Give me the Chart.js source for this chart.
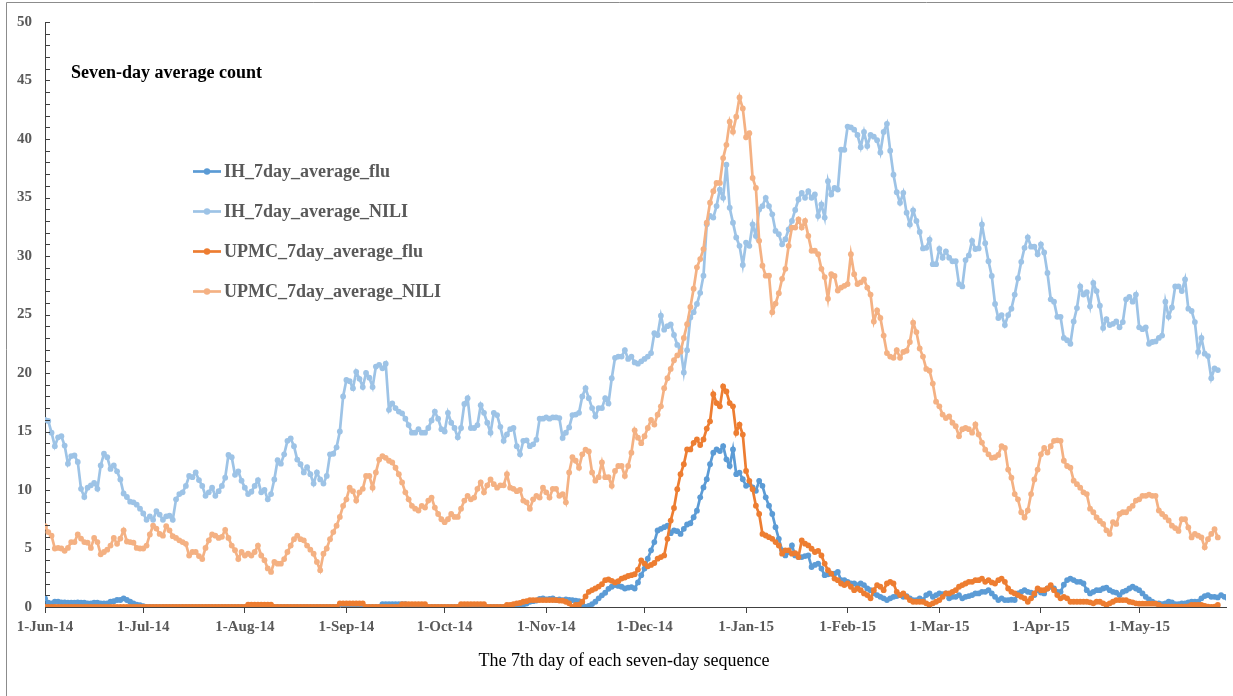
<!DOCTYPE html>
<html><head><meta charset="utf-8">
<script src="https://cdn.jsdelivr.net/npm/chart.js@4.4.1/dist/chart.umd.min.js"></script>
<style>html,body{margin:0;padding:0;background:#fff;overflow:hidden}#wrap{position:relative;width:1233px;height:696px}</style>
</head><body><div id="wrap"><canvas id="c" width="1233" height="696"></canvas></div>
<script>
// Day 0 = 1-Jun-2014, one value per day (7th day of each seven-day window)
const seriesNames = ['IH_7day_average_flu','IH_7day_average_NILI','UPMC_7day_average_flu','UPMC_7day_average_NILI'];

const ihFlu = [
0.74,0.37,0.3,0.45,0.45,0.4,0.4,0.37,0.37,0.37,0.4,0.37,0.37,0.3,0.3,0.37,0.37,0.3,0.3,0.3,
0.45,0.5,0.6,0.6,0.74,0.6,0.45,0.3,0.2,0.15,0.08,
0,0,0,0,0,0,0,0,0,0,0,0,0,0,0,0,0,0,0,0,0,0,0,0,0,0,0,0,0,0,0,0,0,0,0,0,0,0,
0,0,0,0,0,0,0,0,0,0,0,0,0,0,0,0,0,0,0,0,0,0,0,0,0,0,0,0,0,0,0,0,0,0,
0.25,0.25,0.25,0.25,0.25,0.25,0.25,0.25,
0,0,0,0,0,0,0,0,0,0,0,0,0,0,0,0,0,0,0,0,0,0,0,0,0,0,0,0,0,0,0,0,0,0,
0.1,0.2,0.3,0.45,0.5,0.55,0.7,0.74,0.65,0.7,0.74,0.6,0.65,0.59,0.65,0.6,0.59,0.55,0.5,0.2,
0.0,0.1,0.25,
0.45,0.74,1.0,1.22,1.55,1.73,1.87,1.8,1.73,1.58,1.65,1.7,1.58,2.1,2.72,3.28,4.13,4.84,5.55,6.54,
6.68,6.82,6.96,6.31,6.54,6.48,6.25,6.68,7.05,7.16,7.67,8.23,9.37,10.22,10.92,12.2,13.19,13.47,13.33,13.75,
12.62,12.05,13.47,11.35,11.49,10.92,10.36,10.5,10.22,9.93,10.78,10.36,9.37,8.66,7.95,6.82,5.83,4.84,4.41,4.7,
5.26,4.41,4.27,4.27,4.35,4.41,3.42,3.6,3.71,3.28,2.72,2.8,
2.86,2.86,3.0,2.29,2.29,2.15,2.01,2.01,1.87,2.01,1.87,1.58,1.44,1.16,1.02,0.87,0.74,0.59,0.74,0.87,
0.93,1.02,0.87,0.93,0.74,0.59,0.59,0.74,0.59,1.02,1.16,0.87,1.02,1.16,1.1,1.16,0.74,0.87,0.87,1.02,
0.74,0.87,0.93,1.02,1.16,1.16,1.3,1.3,1.44,1.16,0.87,0.59,0.74,0.59,0.59,0.62,
0.6,1.16,1.3,1.44,1.3,1.23,1.02,1.44,1.23,1.16,1.58,1.73,1.58,1.3,1.3,1.9,2.3,2.43,2.3,2.15,
2.15,2.01,1.44,1.16,1.3,1.44,1.44,1.58,1.65,1.44,1.3,1.23,1.02,1.3,1.4,1.58,1.73,1.58,1.44,1.16,
0.87,0.65,0.45,0.31,0.31,0.25,0.31,0.45,0.4,0.25,0.25,0.31,0.31,0.4,0.45,0.45,0.45,0.74,0.93,1.02,
0.87,0.87,0.82,1.02,0.87,0.74,0.59
];

const ihNili = [
16.0,15.9,14.9,13.75,14.5,14.6,13.8,12.25,12.9,12.95,12.4,10.1,9.4,10.2,10.4,10.6,10.1,12.1,13.1,12.8,
11.8,12.1,11.6,10.9,9.7,9.4,9.0,8.95,8.75,8.4,8.0,7.45,7.75,7.45,8.2,7.9,7.45,7.75,7.8,7.45,
9.2,9.65,9.8,10.35,11.2,11.1,11.5,10.85,10.35,9.5,9.8,10.2,9.5,9.9,10.35,11.05,13.0,12.8,11.3,11.6,
10.8,10.2,9.65,9.85,10.35,10.85,9.8,10.0,9.2,9.65,10.9,12.55,12.25,13.05,14.2,14.4,13.75,12.6,12.2,11.5,
11.95,11.35,10.55,11.5,10.9,10.55,11.2,13.05,13.1,13.65,15.0,18.0,19.4,19.3,18.7,20.1,19.5,18.8,20.0,19.6,
18.8,20.55,20.7,20.4,20.8,16.85,17.4,17.0,16.7,16.55,16.1,15.55,14.9,14.9,15.2,
14.9,14.9,15.3,15.95,16.7,16.1,15.2,15.0,16.6,15.75,15.3,14.5,15.3,17.35,17.85,15.3,15.3,15.55,17.25,16.6,
15.75,14.9,16.6,16.4,15.4,14.2,14.75,15.2,15.3,13.75,13.05,14.2,14.25,13.75,13.9,14.3,16.1,16.1,16.2,16.1,
16.2,16.2,16.15,14.45,14.9,
15.35,16.4,16.45,16.6,18.0,18.7,17.85,17.0,16.3,17.0,17.0,17.85,17.4,19.55,21.3,21.4,21.4,21.95,21.2,21.4,
20.9,20.8,21.0,21.2,21.4,21.7,23.4,23.25,24.9,23.7,24.0,24.15,23.25,22.4,22.1,20.05,21.95,24.75,25.2,
25.9,26.85,28.32,32.71,33.42,33.28,34.27,35.68,34.97,37.8,34.13,32.85,31.58,30.87,29.23,31.15,30.87,32.71,31.72,33.98,
34.27,34.97,34.27,33.56,32.14,31.86,31.0,31.43,32.28,33.0,33.94,34.83,35.4,34.97,35.54,34.97,35.26,33.42,34.41,33.28,
36.39,35.26,35.82,35.68,39.08,39.08,41.06,
41.0,40.8,40.35,39.3,40.6,39.4,40.35,40.2,39.9,38.85,40.6,41.3,39.0,36.95,35.45,34.55,35.4,33.7,32.7,33.9,
33.0,32.05,30.65,30.7,31.4,29.3,29.3,30.6,29.85,30.4,29.85,29.55,29.55,27.6,27.4,29.65,30.05,31.3,30.6,30.65,
32.7,31.1,29.55,28.3,25.9,24.7,
24.95,24.1,24.95,25.5,26.7,28.1,29.5,30.7,31.6,30.8,30.8,30.15,31.0,30.3,28.55,26.3,26.1,24.8,24.8,23.0,
22.8,22.5,24.4,25.55,27.4,26.7,26.9,25.7,27.7,27.0,25.75,23.85,24.6,24.1,24.2,24.4,23.9,24.35,26.3,26.5,
26.1,26.7,23.9,23.75,23.9,22.5,22.65,22.7,23.0,23.2,26.1,24.8,25.6,27.4,27.4,27.0,28.0,25.5,25.3,24.35,
21.8,23.0,21.65,21.45,19.55,20.4,20.25
];

const upmcFlu = [
0,0,0,0,0,0,0,0,0,0,0,0,0,0,0,0,0,0,0,0,0,0,0,0,0,0,0,0,0,0,0,0,0,0,0,0,0,0,0,0,
0,0,0,0,0,0,0,0,0,0,0,0,0,0,0,0,0,0,0,0,0,0,
0.2,0.2,0.2,0.2,0.2,0.2,0.2,0.2,
0,0,0,0,0,0,0,0,0,0,0,0,0,0,0,0,0,0,0,0,
0.3,0.3,0.3,0.3,0.3,0.3,0.3,0.3,
0,0,0,0,0,0,0,0,0,0,0,
0.25,0.25,0.25,0.25,0.25,0.25,0.25,0.25,
0,0,0,0,0,0,0,0,0,0,
0.25,0.25,0.25,0.25,0.25,0.25,0.25,0.25,
0,0,0,0,0,0,
0.17,0.17,0.25,0.31,0.35,0.45,0.5,0.59,0.59,0.59,0.59,0.59,0.59,0.59,0.59,0.59,0.55,0.54,0.45,0.31,
0.0,0.17,0.2,
0.45,0.9,1.3,1.45,1.58,1.75,1.95,2.29,2.35,2.24,2.1,2.2,2.43,2.52,2.65,2.72,2.8,3.2,3.99,3.71,
3.48,3.6,3.76,4.13,4.27,4.41,5.83,7.39,8.46,10.07,11.35,12.2,13.47,13.47,14.03,14.32,13.84,14.32,15.25,15.87,
18.19,17.43,17.15,18.85,18.42,17.43,17.15,14.88,15.59,14.74,11.63,10.78,10.07,8.66,7.95,6.25,6.11,5.97,5.83,5.55,
5.26,4.56,4.84,4.84,4.56,4.61,4.27,5.69,5.41,5.26,4.98,4.7,
4.8,4.41,3.71,3.14,2.86,2.43,2.29,2.01,1.87,2.01,1.73,1.44,1.58,1.44,1.16,1.02,0.74,1.44,1.87,1.73,
1.44,2.01,2.15,2.01,1.3,1.02,1.16,0.87,0.59,0.45,0.45,0.45,0.45,0.31,0.17,0.31,0.45,0.59,0.87,1.16,
1.16,1.3,1.44,1.73,1.87,2.01,2.15,2.15,2.29,2.29,2.43,2.15,2.29,2.1,2.01,2.29,
2.43,2.15,1.58,1.3,1.16,1.02,0.87,0.74,0.45,0.74,1.16,1.58,1.44,1.44,1.58,1.87,1.44,1.02,0.74,0.87,
0.74,0.45,0.45,0.45,0.45,0.45,0.45,0.4,0.31,0.45,0.45,0.31,0.17,0.31,0.45,0.59,0.59,0.59,0.59,0.45,
0.4,0.31,0.28,0.28,0.28,0.28,0.28,0.28,0.17,0.03,0.03,0.03,0.03,0.03,0.03,0.03,0.03,0.05,0.17,0.17,
0.17,0.17,0.1,0.03,0.0,0.03,0.17
];

const upmcNili = [
6.9,6.4,6.1,5.0,5.05,5.0,4.8,5.05,5.55,5.55,6.2,5.85,5.55,5.5,5.05,5.9,5.55,4.5,4.7,4.9,
5.25,5.9,5.4,5.85,6.55,5.6,5.55,5.5,5.05,5.0,5.0,5.25,6.2,6.95,6.7,6.25,6.1,6.9,6.55,6.05,
5.9,5.7,5.55,5.4,4.4,4.7,4.7,4.35,4.1,5.05,5.7,6.2,6.1,5.9,6.0,6.6,5.9,5.25,4.85,4.1,
4.7,4.4,4.55,4.4,4.7,5.25,4.4,4.0,3.3,3.0,3.85,3.7,3.7,4.1,4.7,5.25,5.8,6.1,5.8,5.7,
5.25,4.9,4.55,3.85,3.15,4.55,5.0,5.8,6.4,6.95,7.7,8.65,9.2,10.2,9.9,9.1,9.8,10.1,11.2,11.2,
10.2,11.5,12.6,12.9,12.75,12.5,12.35,11.9,11.35,10.65,9.8,9.2,8.65,8.4,8.25,8.65,8.5,9.1,9.35,
8.5,7.95,7.5,7.25,7.5,7.95,7.7,7.7,8.4,9.1,9.5,9.2,9.35,10.1,10.65,9.8,10.4,10.9,10.5,10.2,
10.4,10.4,11.35,10.2,10.1,9.9,10.0,9.1,8.95,8.4,9.2,9.5,9.35,10.2,9.8,9.35,10.1,10.1,9.5,9.65,
8.95,11.5,12.8,12.5,11.9,13.05,13.45,13.3,11.5,10.8,11.1,12.35,11.1,11.1,
10.36,11.63,12.05,12.05,11.2,12.05,13.19,15.1,14.47,14.0,14.6,15.3,16.0,15.59,16.44,17.15,18.7,19.55,20.35,21.09,
21.5,21.82,23.0,24.17,25.64,27.2,29.03,29.74,30.59,32.85,34.55,35.54,36.25,36.25,38.37,39.5,41.48,40.63,41.9,43.55,
42.61,40.15,40.49,36.67,35.82,31.3,29.17,28.32,28.32,25.2,25.93,26.82,28.05,28.9,30.87,32.43,32.43,33.13,32.43,33.0,
31.72,30.45,30.45,
30.15,28.9,28.2,26.35,28.45,28.3,27.05,27.3,27.45,27.6,30.15,28.45,27.6,27.75,28.0,27.3,26.7,24.4,25.35,24.7,
23.2,21.7,21.4,21.3,21.95,21.3,21.8,21.9,22.65,24.3,23.5,22.1,21.4,20.35,20.2,19.1,17.55,17.15,16.45,16.15,
16.3,15.75,15.45,14.6,15.2,15.3,15.2,14.9,15.6,14.75,14.05,13.45,13.05,12.75,12.8,13.0,
13.75,13.6,11.75,11.05,9.65,9.2,8.1,7.65,8.25,9.65,10.9,11.75,13.05,13.6,13.2,13.75,14.2,14.25,14.2,12.5,
12.05,11.9,10.8,10.5,10.2,9.8,9.65,8.4,8.1,7.65,7.35,7.1,6.55,6.25,7.25,7.1,7.95,8.1,8.1,8.4,
8.65,9.1,9.2,9.5,9.5,9.6,9.5,9.5,8.25,7.95,7.7,7.4,6.95,6.75,6.5,7.5,7.5,6.8,5.95,6.25,
6.1,5.95,5.1,5.8,6.25,6.65,5.95
];

// Month tick positions (days since 1-Jun-2014) and their labels
const monthTickDays = [0,30,61,92,122,153,183,214,245,273,304,334];
const monthTickLabels = ['1-Jun-14','1-Jul-14','1-Aug-14','1-Sep-14','1-Oct-14','1-Nov-14','1-Dec-14','1-Jan-15','1-Feb-15','1-Mar-15','1-Apr-15','1-May-15'];

const chartTitle = 'Seven-day average count';
const xAxisTitle = 'The 7th day of each seven-day sequence';

const colors = ['#5B9BD5','#9DC3E6','#ED7D31','#F4B183'];
const allSeries = [ihFlu, ihNili, upmcFlu, upmcNili];

const SERIF = '"Liberation Serif","Times New Roman",serif';

const datasets = allSeries.map((vals, k) => ({
  label: seriesNames[k],
  data: vals.map((v, i) => ({x: i, y: v})),
  borderColor: colors[k],
  backgroundColor: colors[k],
  pointBackgroundColor: colors[k],
  pointBorderWidth: 0,
  pointRadius: 2.9,
  borderWidth: 2.7,
  tension: 0,
  order: 4 - k
}));

const decor = {
  id: 'decor',
  afterDraw(chart) {
    const ctx = chart.ctx;
    const y = chart.scales.y;
    const ca = chart.chartArea;
    ctx.save();
    // outer chart border
    ctx.strokeStyle = '#8c8c8c';
    ctx.lineWidth = 1;
    ctx.beginPath();
    ctx.moveTo(6.5, 696); ctx.lineTo(6.5, 2.5); ctx.lineTo(1233, 2.5);
    ctx.stroke();
    // y-axis tick marks (inside)
    ctx.strokeStyle = '#404040';
    ctx.beginPath();
    for (let v = 0; v <= 50; v++) {
      const py = Math.round(y.getPixelForValue(v)) + 0.5;
      ctx.moveTo(ca.left, py);
      ctx.lineTo(ca.left + 5, py);
    }
    ctx.stroke();
    // title inside plot
    ctx.fillStyle = '#000';
    ctx.font = 'bold 18px ' + SERIF;
    ctx.textAlign = 'left';
    ctx.textBaseline = 'middle';
    ctx.fillText(chartTitle, 71, 73);
    // legend
    chart.data.datasets.forEach((ds, i) => {
      const ly = 171.5 + i * 40;
      ctx.strokeStyle = ds.borderColor;
      ctx.lineWidth = 2.7;
      ctx.beginPath(); ctx.moveTo(193, ly); ctx.lineTo(221, ly); ctx.stroke();
      ctx.fillStyle = ds.borderColor;
      ctx.beginPath(); ctx.arc(207, ly, 3.2, 0, Math.PI * 2); ctx.fill();
      ctx.fillStyle = '#595959';
      ctx.font = 'bold 18px ' + SERIF;
      ctx.fillText(ds.label, 224, ly + 1);
    });
    // x-axis title
    ctx.fillStyle = '#000';
    ctx.font = '18px ' + SERIF;
    ctx.textAlign = 'center';
    ctx.fillText(xAxisTitle, 624, 661);
    ctx.restore();
  }
};

new Chart(document.getElementById('c'), {
  type: 'line',
  data: { datasets },
  options: {
    responsive: false,
    animation: false,
    devicePixelRatio: 1,
    layout: { padding: { left: 0, right: 7, top: 15, bottom: 0 } },
    plugins: { legend: { display: false }, tooltip: { enabled: false }, title: { display: false } },
    scales: {
      x: {
        type: 'linear', min: 0, max: 360.5,
        afterBuildTicks: s => { s.ticks = monthTickDays.map(v => ({ value: v })); },
        afterFit: s => { s.height = 89; },
        ticks: {
          autoSkip: false, maxRotation: 0, minRotation: 0, padding: 5,
          color: '#595959', font: { family: SERIF, size: 15, weight: 'bold' },
          callback: v => monthTickLabels[monthTickDays.indexOf(v)]
        },
        grid: { drawOnChartArea: false, drawTicks: true, tickLength: 6, color: '#404040' },
        border: { color: '#404040', width: 1 }
      },
      y: {
        min: 0, max: 50,
        afterFit: s => { s.width = 45; },
        ticks: {
          stepSize: 1, autoSkip: false, padding: 13,
          color: '#595959', font: { family: SERIF, size: 15, weight: 'bold' },
          callback: v => (v % 5 === 0 ? v : '')
        },
        grid: { drawOnChartArea: false, drawTicks: false },
        border: { color: '#404040', width: 1 }
      }
    }
  },
  plugins: [decor]
});
</script>
</body></html>
